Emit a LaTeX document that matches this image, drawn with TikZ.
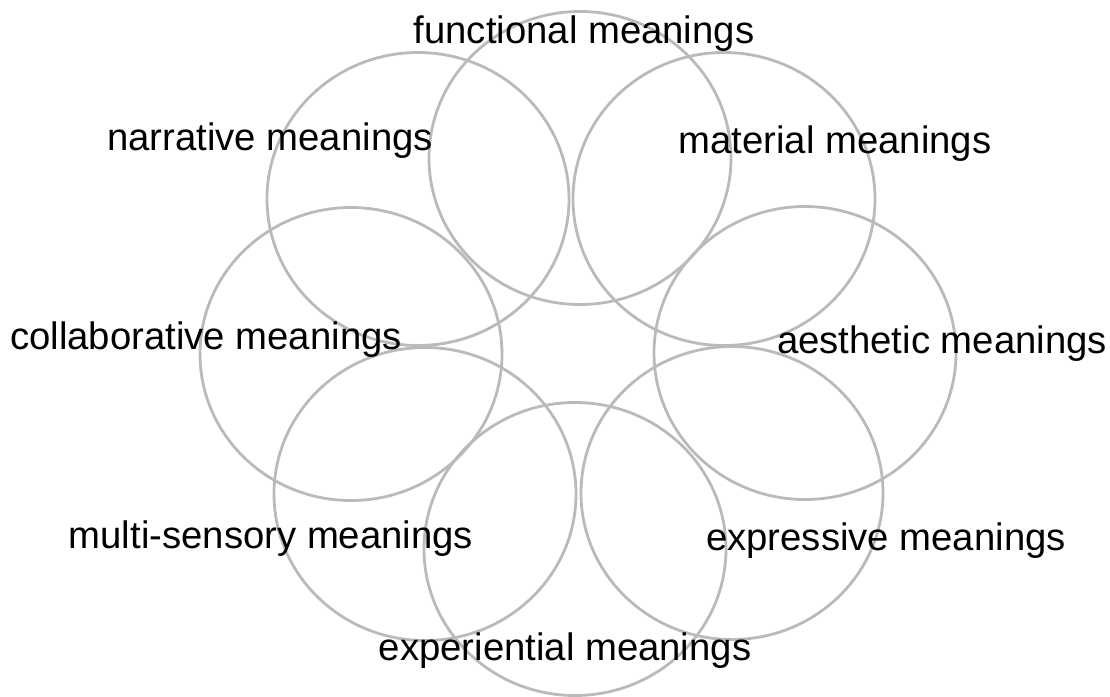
\documentclass[tikz,border=0pt]{standalone}
\usepackage{fontspec}
\setmainfont{Liberation Sans}
\usetikzlibrary{shapes.geometric}
\definecolor{ringgray}{RGB}{186,186,186}
\tikzset{
  ring/.style={ellipse, draw=ringgray, line width=2.8pt, minimum width=302pt, minimum height=293pt, inner sep=0pt},
  lbl/.style={anchor=base, inner sep=0pt, font=\fontsize{38.3}{45}\selectfont, text=black}
}
\begin{document}
\begin{tikzpicture}[x=1pt,y=-1pt]
\useasboundingbox (0,0) rectangle (1110,696);
\node[ring] (functional) at (580,158) {};
\node[ring] (material) at (724,199) {};
\node[ring] (aesthetic) at (805,353) {};
\node[ring] (expressive) at (732,493) {};
\node[ring] (experiential) at (575,549) {};
\node[ring] (multisensory) at (425,494) {};
\node[ring] (collaborative) at (351,354) {};
\node[ring] (narrative) at (418,199) {};
\node[lbl] (tfunctional) at (584,43) {functional meanings};
\node[lbl] (tnarrative) at (270,150) {narrative meanings};
\node[lbl] (tmaterial) at (835,153) {material meanings};
\node[lbl] (taesthetic) at (942,353) {aesthetic meanings};
\node[lbl] (tcollaborative) at (206,349) {collaborative meanings};
\node[lbl] (tmultisensory) at (271,548) {multi-sensory meanings};
\node[lbl] (texpressive) at (886,550) {expressive meanings};
\node[lbl] (texperiential) at (565,660) {experiential meanings};
\end{tikzpicture}
\end{document}
